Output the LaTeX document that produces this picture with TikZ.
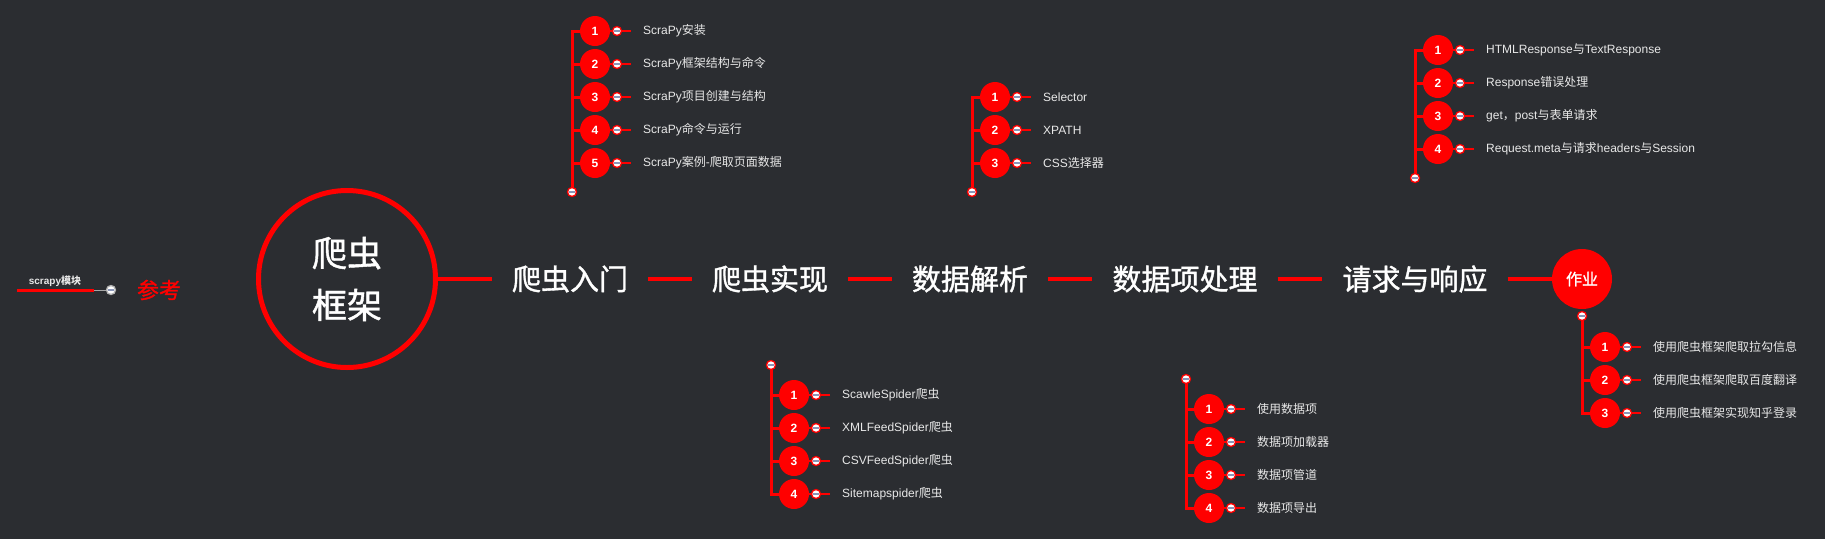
\documentclass[tikz,border=0pt]{standalone}
\usepackage{fontspec}
\setmainfont{Liberation Sans}
\newfontfamily\cjk{Noto Sans CJK SC}
\newfontfamily\cjkb[FakeBold=1.2]{Noto Sans CJK SC}
\newcommand\zh[1]{{\cjk #1}}
\definecolor{bg}{HTML}{2B2D31}
\definecolor{itemtxt}{HTML}{E8E8E8}
\definecolor{minusc}{HTML}{8A96B8}
\definecolor{mmred}{HTML}{FF0000}
\pgfdeclarelayer{back}
\pgfdeclarelayer{edges}
\pgfsetlayers{back,edges,main}
\tikzset{
 numc/.style={circle, fill=mmred, minimum size=30pt, inner sep=0pt, text=white, font=\bfseries\fontsize{12}{12}\selectfont},
 mini/.style={circle, draw=mmred, fill=white, line width=1.3pt, minimum size=9pt, inner sep=0pt,
   path picture={\draw[minusc, line width=1.3pt] ([xshift=-2.6pt]path picture bounding box.center) -- ([xshift=2.6pt]path picture bounding box.center);}},
 grmini/.style={mini, draw=gray!60},
 itemt/.style={anchor=west, inner sep=0pt, text=itemtxt, font=\fontsize{12}{14}\selectfont},
 bline/.style={mmred, line width=3pt, line cap=rect},
 tline/.style={mmred, line width=2pt},
 topic/.style={text=white, font=\cjkb\fontsize{29}{29}\selectfont, inner xsep=20pt, inner ysep=0pt},
 mainline/.style={mmred, line width=4.5pt},
}
% #1 branch id, #2 index, #3 x of vertical line, #4 y, #5 number, #6 text
\newcommand\bitem[6]{%
 \node[numc] (#1n#2) at (#3+23,#4) {#5};
 \node[mini] (#1m#2) at (#3+45,#4) {};
 \coordinate (#1e#2) at (#3+59,#4);
 \node[itemt] (#1t#2) at (#3+71,#4) {#6};
 \begin{pgfonlayer}{edges}
 \draw[bline] (#1v |- #1n#2) -- (#1n#2);
 \draw[tline] (#1n#2) -- (#1m#2);
 \draw[tline] (#1m#2) -- (#1e#2);
 \end{pgfonlayer}
}
\begin{document}
\begin{tikzpicture}[x=1pt,y=-1pt]
\begin{pgfonlayer}{back}
\fill[bg] (0,0) rectangle (1825,539);
\end{pgfonlayer}
\path[use as bounding box] (0,0) rectangle (1825,539);

% left reference part
\node[text=itemtxt, font=\bfseries\fontsize{10}{10}\selectfont, inner sep=0pt] (sm) at (55,281) {scrapy\zh{模块}};
\coordinate (smL) at (17,290);
\coordinate (smR) at (94,290);
\node[grmini] (lm) at (111,290) {};
\node[text=mmred, font=\cjkb\fontsize{22}{22}\selectfont] (ref) at (159,290) {参考};
\begin{pgfonlayer}{edges}
\draw[mmred, line width=3pt] (smL) -- (smR);
\draw[gray!70, line width=1pt] (smR) -- (lm);
\end{pgfonlayer}

% root and topics
\node[circle, draw=mmred, line width=5pt, minimum size=177pt, inner sep=0pt, text=white,
      font=\cjkb\fontsize{35}{52}\selectfont, align=center] (root) at (347,279) {爬虫\\框架};
\node[topic] (t1) at (570,279) {爬虫入门};
\node[topic] (t2) at (770,279) {爬虫实现};
\node[topic] (t3) at (970,279) {数据解析};
\node[topic] (t4) at (1185,279) {数据项处理};
\node[topic] (t5) at (1415,279) {请求与响应};
\node[circle, fill=mmred, minimum size=60pt, inner sep=0pt, text=white,
      font=\cjkb\fontsize{16}{16}\selectfont] (work) at (1582,279) {作业};
\begin{pgfonlayer}{edges}
\draw[mainline] (root) -- (t1);
\draw[mainline] (t1) -- (t2);
\draw[mainline] (t2) -- (t3);
\draw[mainline] (t3) -- (t4);
\draw[mainline] (t4) -- (t5);
\draw[mainline] (t5) -- (work);
\end{pgfonlayer}

% branch 1
\coordinate (av) at (572,31);
\bitem{a}{1}{572}{31}{1}{ScraPy\zh{安装}}
\bitem{a}{2}{572}{64}{2}{ScraPy\zh{框架结构与命令}}
\bitem{a}{3}{572}{97}{3}{ScraPy\zh{项目创建与结构}}
\bitem{a}{4}{572}{130}{4}{ScraPy\zh{命令与运行}}
\bitem{a}{5}{572}{163}{5}{ScraPy\zh{案例}-\zh{爬取页面数据}}
\node[mini] (aend) at (572,192) {};
\begin{pgfonlayer}{edges}\draw[bline] (av) -- (aend);\end{pgfonlayer}

% branch 2
\node[mini] (btop) at (771,365) {};
\coordinate (bv) at (771,365);
\bitem{b}{1}{771}{395}{1}{ScawleSpider\zh{爬虫}}
\bitem{b}{2}{771}{428}{2}{XMLFeedSpider\zh{爬虫}}
\bitem{b}{3}{771}{461}{3}{CSVFeedSpider\zh{爬虫}}
\bitem{b}{4}{771}{494}{4}{Sitemapspider\zh{爬虫}}
\begin{pgfonlayer}{edges}\draw[bline] (btop) -- (bv |- bn4);\end{pgfonlayer}

% branch 3
\coordinate (cv) at (972,97);
\bitem{c}{1}{972}{97}{1}{Selector}
\bitem{c}{2}{972}{130}{2}{XPATH}
\bitem{c}{3}{972}{163}{3}{CSS\zh{选择器}}
\node[mini] (cend) at (972,192) {};
\begin{pgfonlayer}{edges}\draw[bline] (cv) -- (cend);\end{pgfonlayer}

% branch 4
\node[mini] (dtop) at (1186,379) {};
\coordinate (dv) at (1186,379);
\bitem{d}{1}{1186}{409}{1}{\zh{使用数据项}}
\bitem{d}{2}{1186}{442}{2}{\zh{数据项加载器}}
\bitem{d}{3}{1186}{475}{3}{\zh{数据项管道}}
\bitem{d}{4}{1186}{508}{4}{\zh{数据项导出}}
\begin{pgfonlayer}{edges}\draw[bline] (dtop) -- (dv |- dn4);\end{pgfonlayer}

% branch 5
\coordinate (ev) at (1415,50);
\bitem{e}{1}{1415}{50}{1}{HTMLResponse\zh{与}TextResponse}
\bitem{e}{2}{1415}{83}{2}{Response\zh{错误处理}}
\bitem{e}{3}{1415}{116}{3}{get\zh{，}post\zh{与表单请求}}
\bitem{e}{4}{1415}{149}{4}{Request.meta\zh{与请求}headers\zh{与}Session}
\node[mini] (eend) at (1415,178) {};
\begin{pgfonlayer}{edges}\draw[bline] (ev) -- (eend);\end{pgfonlayer}

% branch 6
\node[mini] (ftop) at (1582,316) {};
\coordinate (fv) at (1582,316);
\bitem{f}{1}{1582}{347}{1}{\zh{使用爬虫框架爬取拉勾信息}}
\bitem{f}{2}{1582}{380}{2}{\zh{使用爬虫框架爬取百度翻译}}
\bitem{f}{3}{1582}{413}{3}{\zh{使用爬虫框架实现知乎登录}}
\begin{pgfonlayer}{edges}\draw[bline] (ftop) -- (fv |- fn3);\end{pgfonlayer}
\end{tikzpicture}
\end{document}
